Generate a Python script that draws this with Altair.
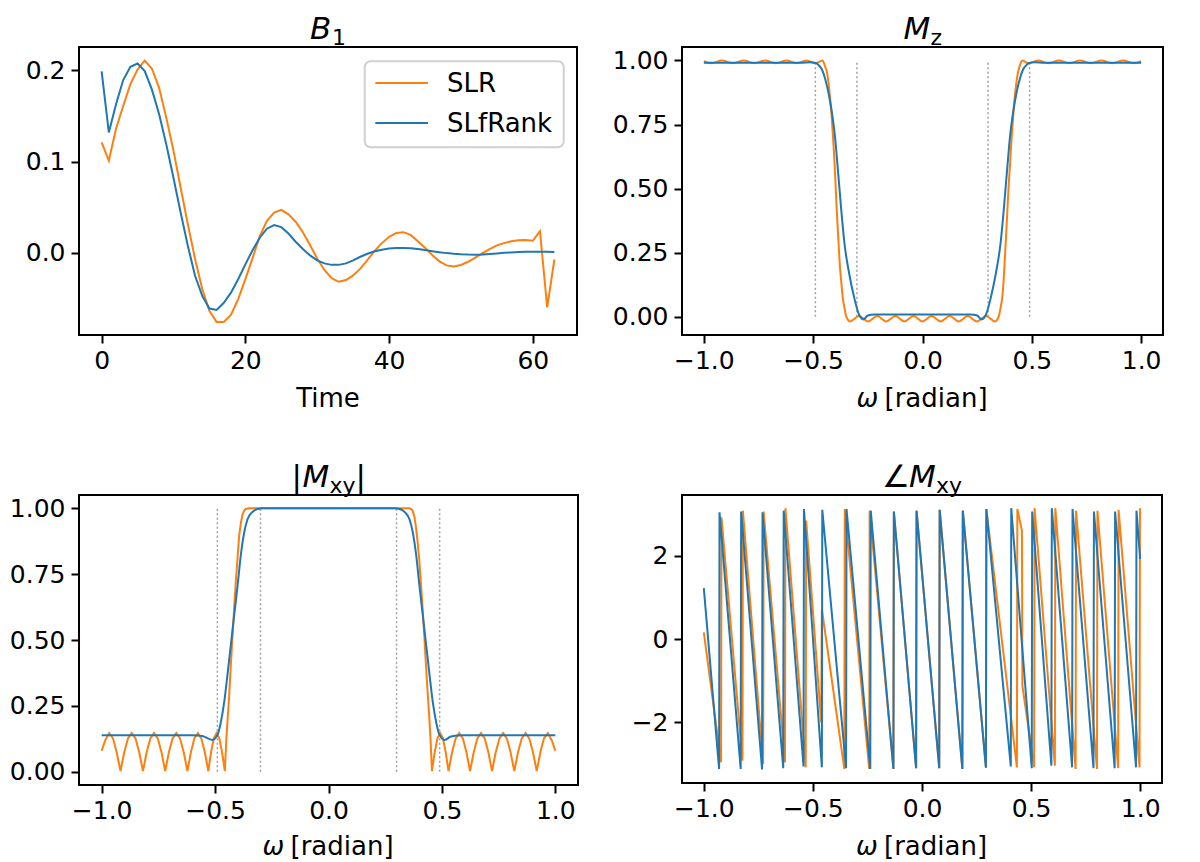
import altair as alt
import pandas as pd

ORANGE = "#ff7f0e"
BLUE = "#1f77b4"
FONT = "DejaVu Sans"
LW = 2

# ---------------- B1 ----------------
time = list(range(64))
b1_slr = [0.121, 0.101, 0.136, 0.161, 0.185, 0.201, 0.211, 0.202, 0.181, 0.148,
          0.112, 0.071, 0.031, -0.007, -0.040, -0.064, -0.076, -0.076, -0.068, -0.051,
          -0.029, -0.006, 0.018, 0.035, 0.044, 0.047, 0.042, 0.034, 0.0225, 0.0085,
          -0.0065, -0.019, -0.028, -0.032, -0.030, -0.025, -0.0175, -0.008, 0.002, 0.0105,
          0.0175, 0.0215, 0.0225, 0.0195, 0.0125, 0.0055, -0.0025, -0.0095, -0.014, -0.0152,
          -0.0135, -0.010, -0.0055, -0.0005, 0.004, 0.008, 0.0105, 0.0125, 0.0135, 0.0138,
          0.013, 0.0235, -0.060, -0.0075]
b1_slfrank = [0.199, 0.132, 0.163, 0.1895, 0.204, 0.2076, 0.1993, 0.179, 0.152, 0.1188,
              0.082, 0.0438, 0.0073, -0.0254, -0.0475, -0.0614, -0.0629, -0.055, -0.0439, -0.0292,
              -0.0128, 0.0026, 0.0164, 0.0263, 0.0303, 0.028, 0.021, 0.012, 0.004, -0.003,
              -0.0085, -0.0118, -0.0134, -0.0134, -0.0118, -0.0085, -0.0045, -0.0012, 0.0015, 0.0033,
              0.0045, 0.0051, 0.0052, 0.0048, 0.0039, 0.0028, 0.0016, 0.0005, -0.0005, -0.0013,
              -0.0018, -0.0021, -0.0022, -0.0019, -0.0014, -0.0008, -0.0002, 0.0003, 0.0007, 0.001,
              0.0011, 0.0011, 0.0009, 0.0007]

# ---------------- Mz ----------------
mz_slr_w = [-1.0, -0.967, -0.917, -0.868, -0.818, -0.77, -0.72, -0.671, -0.622, -0.576,
            -0.53, -0.49, -0.457, -0.445, -0.438, -0.431, -0.424, -0.416, -0.409, -0.401,
            -0.394, -0.386, -0.379, -0.372, -0.365, -0.357, -0.35, -0.341, -0.332, -0.29,
            -0.249, -0.207, -0.166, -0.124, -0.083, -0.041, 0.0, 0.041, 0.083, 0.124,
            0.166, 0.207, 0.249, 0.29, 0.332, 0.341, 0.35, 0.357, 0.365, 0.371,
            0.378, 0.385, 0.392, 0.4, 0.407, 0.415, 0.422, 0.429, 0.436, 0.444,
            0.456, 0.485, 0.529, 0.576, 0.624, 0.672, 0.721, 0.77, 0.819, 0.868,
            0.918, 0.967, 1.0]
mz_slr = [0.997, 0.989, 1.0, 0.989, 1.0, 0.989, 1.0, 0.989, 1.0, 0.989,
          1.0, 0.989, 1.0, 0.975, 0.958, 0.92, 0.864, 0.79, 0.696, 0.58,
          0.446, 0.32, 0.213, 0.14, 0.077, 0.035, 0.005, -0.012, -0.018, 0.003,
          -0.018, 0.003, -0.018, 0.003, -0.018, 0.003, -0.018, 0.003, -0.018, 0.003,
          -0.018, 0.003, -0.018, 0.003, -0.018, -0.012, 0.005, 0.035, 0.077, 0.14,
          0.25, 0.36, 0.48, 0.59, 0.69, 0.787, 0.86, 0.91, 0.95, 0.977,
          1.0, 0.989, 1.0, 0.989, 1.0, 0.989, 1.0, 0.989, 1.0, 0.989,
          1.0, 0.989, 0.997]
mz_slf_w = [-1.0, -0.6, -0.556, -0.512, -0.488, -0.475, -0.46, -0.446, -0.431, -0.416,
            -0.401, -0.387, -0.372, -0.357, -0.335, -0.313, -0.291, -0.27, -0.25, -0.22,
            0.22, 0.25, 0.27, 0.291, 0.313, 0.335, 0.357, 0.372, 0.387, 0.401,
            0.416, 0.431, 0.446, 0.46, 0.475, 0.488, 0.512, 0.556, 0.6, 1.0]
mz_slf = [0.991, 0.991, 0.991, 0.993, 0.99, 0.982, 0.965, 0.931, 0.878, 0.806,
          0.709, 0.574, 0.421, 0.287, 0.167, 0.077, 0.01, -0.01, 0.005, 0.009,
          0.009, 0.005, -0.01, 0.01, 0.077, 0.167, 0.287, 0.421, 0.574, 0.709,
          0.806, 0.878, 0.931, 0.965, 0.982, 0.99, 0.993, 0.991, 0.991, 0.991]

# ---------------- |Mxy| ----------------
mxy_slr_w = [-1.0, -0.985, -0.967, -0.95, -0.934, -0.917,
             -0.9005, -0.884, -0.8675, -0.851, -0.8345, -0.818,
             -0.8017, -0.7853, -0.769, -0.7527, -0.7363, -0.72,
             -0.7037, -0.6873, -0.671, -0.6547, -0.6383, -0.622,
             -0.6067, -0.5913, -0.576, -0.5607, -0.5453, -0.53,
             -0.5178, -0.5057, -0.4935, -0.4813, -0.4692, -0.457,
             -0.45, -0.438, -0.431, -0.424, -0.416, -0.409, -0.401, -0.394, -0.386, -0.379, -0.372, -0.365, -0.35,
             0.356, 0.365, 0.371, 0.378, 0.385, 0.392, 0.4, 0.407, 0.415, 0.422, 0.429, 0.436, 0.444, 0.45,
             0.456, 0.4682, 0.4803, 0.4925, 0.5047, 0.5168,
             0.529, 0.5448, 0.5607, 0.5765, 0.5923, 0.6082,
             0.624, 0.6402, 0.6563, 0.6725, 0.6887, 0.7048,
             0.721, 0.7373, 0.7537, 0.77, 0.7863, 0.8027,
             0.819, 0.8355, 0.852, 0.8685, 0.885, 0.9015,
             0.918, 0.934, 0.95, 0.967, 0.985, 1.0]
mxy_slr = [0.080, 0.118, 0.147, 0.127, 0.074, 0.003,
           0.074, 0.127, 0.147, 0.127, 0.074, 0.003,
           0.074, 0.127, 0.147, 0.127, 0.074, 0.003,
           0.074, 0.127, 0.147, 0.127, 0.074, 0.003,
           0.074, 0.127, 0.147, 0.127, 0.074, 0.003,
           0.074, 0.127, 0.147, 0.127, 0.074, 0.003,
           0.13, 0.288, 0.40, 0.503, 0.62, 0.718, 0.81, 0.895, 0.945, 0.977, 0.99, 0.997, 1.0,
           1.0, 0.997, 0.99, 0.97, 0.933, 0.88, 0.807, 0.72, 0.617, 0.52, 0.415, 0.315, 0.212, 0.12,
           0.003, 0.074, 0.127, 0.147, 0.127, 0.074,
           0.003, 0.074, 0.127, 0.147, 0.127, 0.074,
           0.003, 0.074, 0.127, 0.147, 0.127, 0.074,
           0.003, 0.074, 0.127, 0.147, 0.127, 0.074,
           0.003, 0.074, 0.127, 0.147, 0.127, 0.074,
           0.003, 0.074, 0.127, 0.147, 0.118, 0.080]
mxy_slf_w = [-1.0, -0.6, -0.556, -0.512, -0.488, -0.475, -0.46, -0.446, -0.431, -0.416,
             -0.401, -0.387, -0.372, -0.357, -0.335, -0.313, -0.291, 0.291, 0.313, 0.335,
             0.357, 0.372, 0.387, 0.401, 0.416, 0.431, 0.446, 0.46, 0.475, 0.488,
             0.512, 0.54, 0.59, 1.0]
mxy_slf = [0.139, 0.139, 0.136, 0.121, 0.143, 0.187, 0.263, 0.364, 0.478, 0.592,
           0.705, 0.819, 0.907, 0.958, 0.986, 0.997, 1.0, 1.0, 0.997, 0.986,
           0.958, 0.907, 0.819, 0.705, 0.592, 0.478, 0.364, 0.263, 0.187, 0.143,
           0.121, 0.134, 0.139, 0.139]

# ---------------- angle Mxy ----------------
ph_slf_w = [-1.0, -0.930, -0.928, -0.831, -0.829, -0.733, -0.731, -0.636, -0.634, -0.543,
            -0.541, -0.459, -0.457, -0.348, -0.346, -0.237, -0.235, -0.131, -0.129, -0.027,
            -0.025, 0.079, 0.081, 0.185, 0.187, 0.293, 0.295, 0.407, 0.409, 0.503,
            0.505, 0.593, 0.595, 0.688, 0.690, 0.786, 0.788, 0.883, 0.885, 0.981,
            0.983, 1.0]
ph_slf = [1.22, -3.12, 3.04, -3.12, 3.06, -3.13, 3.04, -3.10, 3.08, -3.06,
          3.12, -3.08, 3.10, -3.10, 3.12, -3.12, 3.08, -3.12, 3.06, -3.10,
          3.08, -3.10, 3.10, -3.12, 3.08, -3.09, 3.12, -3.06, 3.14, -3.10,
          3.06, -3.04, 3.14, -3.08, 3.12, -3.10, 3.06, -3.10, 3.06, -3.08,
          3.08, 1.92]
ph_slr_w = [-1.0, -0.921, -0.919, -0.823, -0.821, -0.728, -0.726, -0.628, -0.626, -0.533,
            -0.531, -0.462, -0.459, -0.356, -0.354, -0.242, -0.240, -0.131, -0.129, -0.027,
            -0.025, 0.079, 0.081, 0.185, 0.187, 0.293, 0.295, 0.435, 0.437, 0.458,
            0.460, 0.514, 0.516, 0.609, 0.611, 0.704, 0.706, 0.802, 0.804, 0.899,
            0.901, 0.997, 0.999, 1.0]
ph_slr = [0.16, -2.96, 2.92, -2.92, 3.08, -3.0, 3.06, -2.96, 3.14, -3.08,
          2.84, -2.0, 0.72, -3.12, 3.12, -3.12, 3.08, -3.12, 3.06, -3.10,
          3.08, -3.10, 3.10, -3.12, 3.08, -3.09, 3.12, -3.08, 3.12, 2.6,
          -1.12, -3.08, 3.14, -3.04, 3.14, -3.12, 3.08, -3.12, 3.08, -3.10,
          3.10, -3.08, 3.14, 3.0]

band_edges = [-0.49, -0.3, 0.3, 0.49]
band_lo = [0.0, 0.0, 0.0, 0.0]
band_hi = [1.0, 1.0, 1.0, 1.0]

W_TICKS = [-1.0, -0.5, 0.0, 0.5, 1.0]
TB = -8  # title baseline relative to the plot top


def ax(values, fmt):
    return alt.Axis(values=values, format=fmt, title=None)


def line(xs, ys, color, xs_scale, ys_scale, xa, ya, interp="linear"):
    df = pd.DataFrame({"x": xs, "y": ys})
    return alt.Chart(df).mark_line(color=color, strokeWidth=LW, interpolate=interp, clip=True).encode(
        x=alt.X("x:Q", scale=xs_scale, axis=xa),
        y=alt.Y("y:Q", scale=ys_scale, axis=ya),
    )


def vlines(xs_scale, ys_scale, xa, ya):
    df = pd.DataFrame({"x": band_edges, "y": band_lo, "y2": band_hi})
    return alt.Chart(df).mark_rule(color="#a0a0a0", strokeWidth=1.5, strokeDash=[2, 2.5]).encode(
        x=alt.X("x:Q", scale=xs_scale, axis=xa),
        y=alt.Y("y:Q", scale=ys_scale, axis=ya),
        y2="y2:Q",
    )


def txt(s, x, y, size=31, style="normal", align="left", baseline="alphabetic"):
    return alt.Chart(pd.DataFrame({"d": [0]})).mark_text(
        text=s, font=FONT, fontSize=size, fontStyle=style, align=align, baseline=baseline, color="black"
    ).encode(x=alt.value(x), y=alt.value(y))


def omega_title(cx, ybase):
    start = cx - 66
    return [txt("ω", start, ybase, 26, "italic"), txt("[radian]", start + 28, ybase, 26)]


# ---------- panel 1: B1 ----------
W1, H1 = 498, 288
xs1 = alt.Scale(domain=[-3.15, 66.15], nice=False, zero=False)
ys1 = alt.Scale(domain=[-0.0904, 0.2258], nice=False, zero=False)
xa1 = ax([0, 20, 40, 60], "d")
ya1 = ax([0.0, 0.1, 0.2], ".1f")
p1 = alt.layer(
    line(time, b1_slr, ORANGE, xs1, ys1, xa1, ya1),
    line(time, b1_slfrank, BLUE, xs1, ys1, xa1, ya1),
    alt.Chart(pd.DataFrame({"d": [0]})).mark_rect(
        fill="white", fillOpacity=0.8, stroke="#d0d0d0", strokeWidth=2, cornerRadius=6
    ).encode(x=alt.value(285.7), x2=alt.value(484.7), y=alt.value(14.3), y2=alt.value(100.3)),
    alt.Chart(pd.DataFrame({"d": [0]})).mark_rule(color=ORANGE, strokeWidth=LW).encode(
        x=alt.value(296.3), x2=alt.value(349), y=alt.value(36)),
    alt.Chart(pd.DataFrame({"d": [0]})).mark_rule(color=BLUE, strokeWidth=LW).encode(
        x=alt.value(296.3), x2=alt.value(349), y=alt.value(76)),
    txt("SLR", 368, 37, 26, baseline="middle"),
    txt("SLfRank", 368, 77, 26, baseline="middle"),
    txt("B", W1 / 2 - 18, TB, 31, "italic"),
    txt("1", W1 / 2 + 4, TB + 6, 22),
    txt("Time", W1 / 2, H1 + 72, 26, align="center"),
).properties(width=W1, height=H1)

# ---------- panel 2: Mz ----------
W2, H2 = 481, 288
xs2 = alt.Scale(domain=[-1.1, 1.1], nice=False, zero=False)
ys2 = alt.Scale(domain=[-0.0709, 1.0526], nice=False, zero=False)
xa2 = ax(W_TICKS, ".1f")
ya2 = ax([0.0, 0.25, 0.5, 0.75, 1.0], ".2f")
p2 = alt.layer(
    vlines(xs2, ys2, xa2, ya2),
    line(mz_slr_w, mz_slr, ORANGE, xs2, ys2, xa2, ya2, "monotone"),
    line(mz_slf_w, mz_slf, BLUE, xs2, ys2, xa2, ya2, "monotone"),
    txt("M", W2 / 2 - 19, TB, 31, "italic"),
    txt("z", W2 / 2 + 8, TB + 6, 22),
    *omega_title(W2 / 2, H2 + 72),
).properties(width=W2, height=H2)

# ---------- panel 3: |Mxy| ----------
W3, H3 = 499, 290
xs3 = alt.Scale(domain=[-1.1, 1.1], nice=False, zero=False)
ys3 = alt.Scale(domain=[-0.05, 1.05], nice=False, zero=False)
xa3 = ax(W_TICKS, ".1f")
ya3 = ax([0.0, 0.25, 0.5, 0.75, 1.0], ".2f")
p3 = alt.layer(
    vlines(xs3, ys3, xa3, ya3),
    line(mxy_slr_w, mxy_slr, ORANGE, xs3, ys3, xa3, ya3),
    line(mxy_slf_w, mxy_slf, BLUE, xs3, ys3, xa3, ya3, "monotone"),
    txt("|", W3 / 2 - 37, TB, 31),
    txt("M", W3 / 2 - 26, TB, 31, "italic"),
    txt("xy", W3 / 2 + 1, TB + 6, 22),
    txt("|", W3 / 2 + 27, TB, 31),
    *omega_title(W3 / 2, H3 + 70),
).properties(width=W3, height=H3)

# ---------- panel 4: angle Mxy ----------
W4, H4 = 480, 288
xs4 = alt.Scale(domain=[-1.1, 1.1], nice=False, zero=False)
ys4 = alt.Scale(domain=[-3.456, 3.456], nice=False, zero=False)
xa4 = ax(W_TICKS, ".1f")
ya4 = ax([-2, 0, 2], "d")
p4 = alt.layer(
    line(ph_slr_w, ph_slr, ORANGE, xs4, ys4, xa4, ya4),
    line(ph_slf_w, ph_slf, BLUE, xs4, ys4, xa4, ya4),
    txt("∠", W4 / 2 - 40, TB, 31),
    txt("M", W4 / 2 - 13, TB, 31, "italic"),
    txt("xy", W4 / 2 + 14, TB + 6, 22),
    *omega_title(W4 / 2, H4 + 72),
).properties(width=W4, height=H4)

chart = alt.concat(
    p1, p2, p3, p4, columns=2, spacing={"row": 160, "column": 104}, bounds="flush"
).properties(
    padding={"left": 0, "top": 5, "right": 5, "bottom": 0}
).configure_view(stroke="black", strokeWidth=2).configure_axis(
    domain=False, grid=False, ticks=True, tickColor="black", tickWidth=2, tickSize=8,
    labelFont=FONT, labelFontSize=25, labelColor="black",
).configure_axisX(labelPadding=5).configure_axisY(labelPadding=6)

chart.save("out.html", embed_options={"renderer": "svg", "actions": False})
